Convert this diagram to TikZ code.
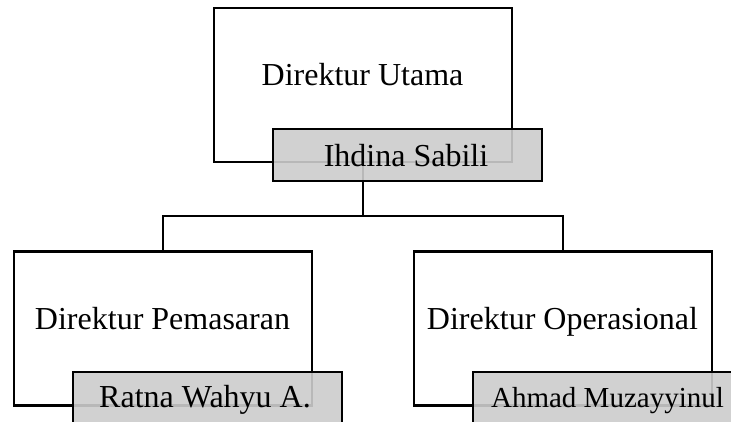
\documentclass[tikz,border=0pt]{standalone}
\usepackage{fontspec}
\setmainfont{Liberation Serif}
\begin{document}
\begin{tikzpicture}[x=1pt,y=-1pt,
  posbox/.style={draw, line width=2.2pt, fill=white, minimum width=298pt, minimum height=154pt, inner sep=0pt, outer sep=0pt},
  namebox/.style={draw, line width=2.2pt, fill=black!20, fill opacity=0.9, minimum width=269pt, minimum height=52pt, inner sep=0pt, outer sep=0pt},
  conn/.style={line width=2.2pt},
  lbl/.style={anchor=base, inner sep=0pt, font=\fontsize{32}{38}\selectfont},
  lblsmall/.style={anchor=base, inner sep=0pt, font=\fontsize{29}{34}\selectfont}]
\path[use as bounding box] (0,0) rectangle (731,421);
\clip (0,0) rectangle (731,421);
% position boxes
\node[posbox] (top) at (363,85) {};
\node[posbox] (pem) at (163,328.5) {};
\node[posbox] (ops) at (563,328.5) {};
% connectors
\coordinate (j) at (363,216);
\draw[conn] (top.south) -- (j);
\draw[conn] (j) -| (pem.north);
\draw[conn] (j) -| (ops.north);
% name boxes
\node[namebox] (ihdina) at (407.5,155) {};
\node[namebox] (ratna) at (207.5,398) {};
\node[namebox] (ahmad) at (607.5,398) {};
% texts
\node[lbl] (tUtama) at (362.5,85) {Direktur Utama};
\node[lbl] (tIhdina) at (406,166) {Ihdina Sabili};
\node[lbl] (tPem) at (162.5,329) {Direktur Pemasaran};
\node[lbl] (tOps) at (562.5,329) {Direktur Operasional};
\node[lbl] (tRatna) at (205,407) {Ratna Wahyu A.};
\node[lblsmall] (tAhmad) at (607.5,407) {Ahmad Muzayyinul};
\end{tikzpicture}
\end{document}
